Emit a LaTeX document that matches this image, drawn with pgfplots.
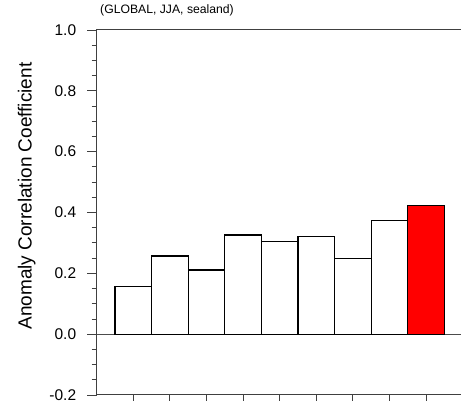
\documentclass[border=0pt]{standalone}
\usepackage{fontspec}
\setmainfont{Liberation Sans}
\usepackage{pgfplots}
\pgfplotsset{compat=1.18}
\begin{document}
\begin{tikzpicture}[x=1pt,y=1pt]
\useasboundingbox (0,0) rectangle (461,401);
\begin{axis}[
  at={(96.7pt,6pt)}, anchor=south west,
  scale only axis, width=366pt, height=365pt,
  xmin=0, xmax=10, ymin=-0.2, ymax=1.0,
  tick align=outside,
  xtick pos=bottom, ytick pos=left,
  major tick length=9.5pt, minor tick length=5pt,
  xtick={1,2,3,4,5,6,7,8,9,10}, xticklabels={},
  ytick={-0.2,0,0.2,0.4,0.6,0.8,1.0},
  minor y tick num=3,
  /pgf/number format/fixed, /pgf/number format/fixed zerofill, /pgf/number format/precision=1,
  /pgf/number format/assume math mode=true,
  tick label style={font=\fontsize{15.5}{15.5}\selectfont},
  yticklabel style={xshift=-7.5pt},
  axis line style={line width=1pt, black!75},
  every tick/.style={black!75, line width=0.9pt},
  extra y ticks={0}, extra y tick labels={},
  extra y tick style={grid=major, major grid style={black!70, line width=0.9pt}},
  ylabel={Anomaly Correlation Coefficient},
  ylabel style={at={(axis description cs:-0.191,0.545)}, anchor=center, font=\fontsize{19}{19}\selectfont},
  title={(GLOBAL, JJA, sealand)},
  title style={at={(axis description cs:0,1)}, anchor=base west, yshift=10.5pt, font=\fontsize{12.2}{12.2}\selectfont},
  ybar, bar width=1,
]
\addplot[fill=white, draw=black, line width=1.2pt, bar shift=0pt] coordinates {
  (1,0.156) (2,0.257) (3,0.211) (4,0.326) (5,0.304) (6,0.322) (7,0.249) (8,0.373)};
\addplot[fill=red, draw=black, line width=1.2pt, bar shift=0pt] coordinates {(9,0.424)};
\end{axis}
\end{tikzpicture}
\end{document}
